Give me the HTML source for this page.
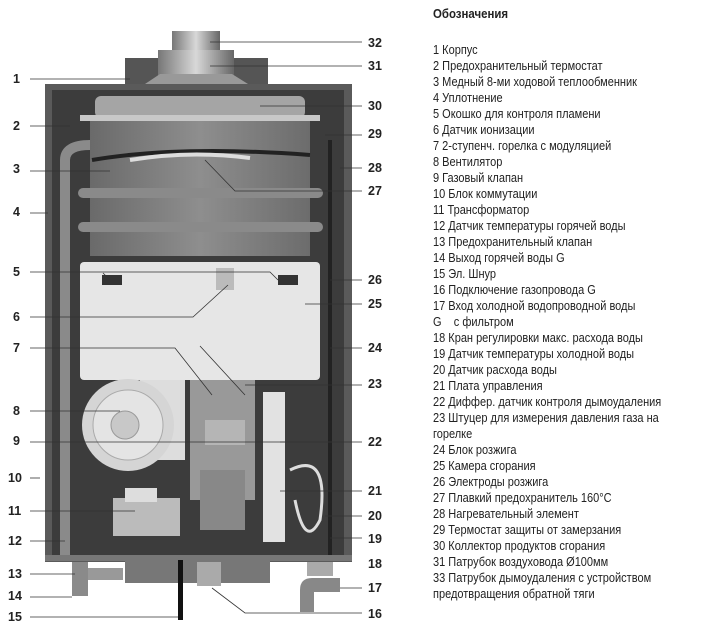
<!DOCTYPE html>
<html><head><meta charset="utf-8"><style>
body{margin:0;width:705px;height:630px;background:#fff;overflow:hidden;position:relative;font-family:"Liberation Sans",sans-serif}
svg{position:absolute;left:0;top:0}
#leg{position:absolute;left:433px;top:0;font-size:12.5px;color:#222;line-height:16px;transform:scaleX(0.88);transform-origin:0 0;white-space:nowrap}
#leg b{display:block;font-size:13px;margin-top:6px;margin-bottom:20px}
</style></head><body>
<svg width="705" height="630" viewBox="0 0 705 630">
<defs>
<linearGradient id="he" x1="0" x2="1"><stop offset="0" stop-color="#6a6a6a"/><stop offset=".5" stop-color="#8e8e8e"/><stop offset="1" stop-color="#6c6c6c"/></linearGradient>
<linearGradient id="fl" x1="0" x2="1"><stop offset="0" stop-color="#777"/><stop offset=".5" stop-color="#d8d8d8"/><stop offset="1" stop-color="#666"/></linearGradient>
</defs>
<!-- bracket -->
<rect x="125" y="58" width="143" height="28" fill="#555"/>
<!-- flue -->
<rect x="172" y="31" width="48" height="22" fill="url(#fl)"/>
<rect x="158" y="50" width="76" height="26" fill="url(#fl)"/>
<path d="M145 84 L160 74 H232 L248 84Z" fill="#999"/>
<!-- case -->
<rect x="45" y="84" width="307" height="478" fill="#5a5a5a"/>
<rect x="52" y="90" width="292" height="465" fill="#3c3c3c"/>
<!-- heat exchanger -->
<rect x="95" y="96" width="210" height="22" rx="6" fill="#a5a5a5"/>
<rect x="80" y="115" width="240" height="6" fill="#c8c8c8"/>
<rect x="90" y="121" width="220" height="135" fill="url(#he)"/>
<rect x="78" y="188" width="245" height="10" rx="5" fill="#8a8a8a"/>
<rect x="78" y="222" width="245" height="10" rx="5" fill="#8a8a8a"/>
<path d="M92 160 Q180 145 310 155" stroke="#222" stroke-width="4" fill="none"/>
<path d="M130 160 Q190 150 250 158" stroke="#ddd" stroke-width="4" fill="none"/>
<!-- left pipe -->
<path d="M65 560 V160 Q65 145 90 145" stroke="#8a8a8a" stroke-width="10" fill="none"/>
<path d="M330 140 V560" stroke="#222" stroke-width="4"/>
<!-- panel -->
<rect x="80" y="262" width="240" height="118" rx="4" fill="#e6e6e6"/>
<rect x="102" y="275" width="20" height="10" fill="#333"/>
<rect x="278" y="275" width="20" height="10" fill="#333"/>
<rect x="216" y="268" width="18" height="22" fill="#bbb"/>
<!-- lower components -->
<rect x="140" y="380" width="45" height="80" fill="#ddd"/>
<circle cx="128" cy="425" r="46" fill="#d5d5d5"/>
<circle cx="128" cy="425" r="35" fill="#e4e4e4" stroke="#aaa"/>
<circle cx="125" cy="425" r="14" fill="#c8c8c8" stroke="#999"/>
<rect x="190" y="380" width="65" height="120" fill="#999"/>
<rect x="205" y="420" width="40" height="25" fill="#b5b5b5"/>
<rect x="200" y="470" width="45" height="60" fill="#888"/>
<rect x="263" y="392" width="22" height="150" fill="#e2e2e2"/>
<rect x="113" y="498" width="67" height="38" fill="#bbb"/>
<rect x="125" y="488" width="32" height="14" fill="#ddd"/>
<path d="M290 470 Q330 450 320 520 Q305 550 295 500" stroke="#ddd" stroke-width="3" fill="none"/>
<!-- bottom -->
<rect x="45" y="555" width="307" height="6" fill="#777"/>
<rect x="125" y="561" width="145" height="22" fill="#777"/>
<rect x="72" y="562" width="16" height="34" fill="#8a8a8a"/>
<rect x="88" y="568" width="35" height="12" fill="#999"/>
<rect x="197" y="562" width="24" height="24" fill="#aaa"/>
<path d="M300 612 V590 Q300 578 312 578 H340 V592 H314 V612Z" fill="#888"/>
<rect x="307" y="562" width="26" height="14" fill="#aaa"/>
<rect x="178" y="560" width="5" height="60" fill="#111"/>
<!-- leaders -->
<g stroke="#333" stroke-width="0.8" fill="none">
<path d="M30 79H130"/><path d="M30 126H70"/><path d="M30 171H110"/><path d="M30 213H48"/>
<path d="M30 272H270L278 280"/><path d="M103 273L110 280"/><path d="M30 317H193L228 285"/>
<path d="M30 348H175L212 395M200 346L245 395"/><path d="M30 411H120"/><path d="M30 442H340"/>
<path d="M30 478H40"/><path d="M30 511H135"/><path d="M30 541H65"/><path d="M30 574H75"/>
<path d="M30 597H72"/><path d="M30 617H178"/>
<path d="M210 42H362"/><path d="M210 66H362"/><path d="M260 106H362"/><path d="M325 135H362"/>
<path d="M340 168H362"/><path d="M205 160L235 191H362"/><path d="M330 280H362"/><path d="M305 304H362"/>
<path d="M330 348H362"/><path d="M245 385H362"/><path d="M280 442H362"/><path d="M280 491H362"/>
<path d="M325 516H362"/><path d="M330 538H362"/><path d="M212 588L245 613H362"/><path d="M340 588H362"/>
</g>
<g font-size="12.5" font-weight="bold" fill="#222" font-family="Liberation Sans,sans-serif">
<text x="13" y="83">1</text><text x="13" y="130">2</text><text x="13" y="173">3</text><text x="13" y="216">4</text>
<text x="13" y="276">5</text><text x="13" y="321">6</text><text x="13" y="352">7</text><text x="13" y="415">8</text>
<text x="13" y="445">9</text><text x="8" y="482">10</text><text x="8" y="515">11</text><text x="8" y="545">12</text>
<text x="8" y="578">13</text><text x="8" y="600">14</text><text x="8" y="621">15</text>
<text x="368" y="47">32</text><text x="368" y="70">31</text><text x="368" y="110">30</text><text x="368" y="138">29</text>
<text x="368" y="172">28</text><text x="368" y="195">27</text><text x="368" y="284">26</text><text x="368" y="308">25</text>
<text x="368" y="352">24</text><text x="368" y="388">23</text><text x="368" y="446">22</text><text x="368" y="495">21</text>
<text x="368" y="520">20</text><text x="368" y="543">19</text><text x="368" y="568">18</text><text x="368" y="592">17</text>
<text x="368" y="618">16</text>
</g>
</svg>
<div id="leg"><b>Обозначения</b>
1 Корпус<br>2 Предохранительный термостат<br>3 Медный 8-ми ходовой теплообменник<br>4 Уплотнение<br>5 Окошко для контроля пламени<br>6 Датчик ионизации<br>7 2-ступенч. горелка с модуляцией<br>8 Вентилятор<br>9 Газовый клапан<br>10 Блок коммутации<br>11 Трансформатор<br>12 Датчик температуры горячей воды<br>13 Предохранительный клапан<br>14 Выход горячей воды G<br>15 Эл. Шнур<br>16 Подключение газопровода G<br>17 Вход холодной водопроводной воды<br>G&nbsp;&nbsp;&nbsp;&nbsp;с фильтром<br>18 Кран регулировки макс. расхода воды<br>19 Датчик температуры холодной воды<br>20 Датчик расхода воды<br>21 Плата управления<br>22 Диффер. датчик контроля дымоудаления<br>23 Штуцер для измерения давления газа на<br>горелке<br>24 Блок розжига<br>25 Камера сгорания<br>26 Электроды розжига<br>27 Плавкий предохранитель 160°C<br>28 Нагревательный элемент<br>29 Термостат защиты от замерзания<br>30 Коллектор продуктов сгорания<br>31 Патрубок воздуховода Ø100мм<br>33 Патрубок дымоудаления с устройством<br>предотвращения обратной тяги
</div>
</body></html>
